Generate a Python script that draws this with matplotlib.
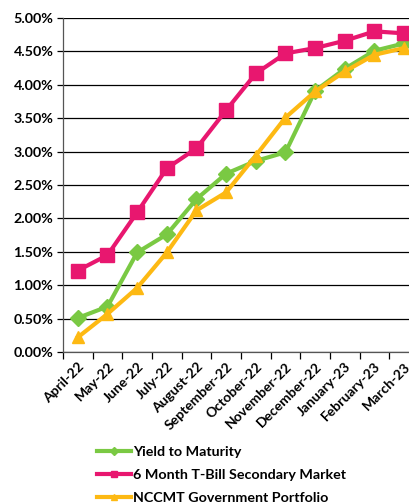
import matplotlib
matplotlib.use("Agg")
import matplotlib.pyplot as plt
from matplotlib.ticker import FuncFormatter, MultipleLocator

months = ["April-22", "May-22", "June-22", "July-22", "August-22", "September-22",
          "October-22", "November-22", "December-22", "January-23", "February-23", "March-23"]
ytm = [0.51, 0.68, 1.49, 1.76, 2.29, 2.67, 2.86, 2.99, 3.91, 4.24, 4.51, 4.62]
tbill = [1.22, 1.45, 2.09, 2.75, 3.05, 3.62, 4.17, 4.47, 4.55, 4.66, 4.80, 4.77]
nccmt = [0.22, 0.57, 0.96, 1.49, 2.12, 2.39, 2.94, 3.51, 3.90, 4.20, 4.45, 4.55]

plt.rcParams['font.family'] = ['Lato', 'DejaVu Sans']
plt.rcParams['font.weight'] = 'bold'

fig = plt.figure(figsize=(4.10, 5.04), dpi=100)
ax = fig.add_axes([63 / 410, 1 - 352 / 504, 356 / 410, 334 / 504])

x = list(range(len(months)))
ax.plot(x, ytm, color="#7AC943", lw=3, marker="D", ms=8, label="Yield to Maturity")
ax.plot(x, tbill, color="#E8176F", lw=3, marker="s", ms=10, label="6 Month T-Bill Secondary Market")
ax.plot(x, nccmt, color="#FDB913", lw=3, marker="^", ms=9, label="NCCMT Government Portfolio")

ax.set_xlim(-0.5, len(months) - 0.5)
ax.set_ylim(0, 5)
ax.yaxis.set_major_locator(MultipleLocator(0.5))
ax.yaxis.set_major_formatter(FuncFormatter(lambda v, p: f"{v:.2f}%"))
ax.grid(axis="y", color="black", lw=0.9)
ax.set_axisbelow(True)

ax.set_xticks([i - 0.5 for i in range(len(months) + 1)])
ax.set_xticklabels([])
ax.set_xticks(x, minor=True)
ax.set_xticklabels(months, minor=True, rotation=45, ha="right", rotation_mode="anchor", fontsize=10)
ax.tick_params(axis="x", which="minor", length=0, pad=6)
ax.tick_params(axis="x", which="major", length=5, width=0.9, direction="out")
ax.tick_params(axis="y", length=4, width=0.9, labelsize=10.3, pad=3)

for s in ["top", "right"]:
    ax.spines[s].set_visible(False)
for s in ["left", "bottom"]:
    ax.spines[s].set_color("#555555")
    ax.spines[s].set_linewidth(0.9)

leg = fig.legend(loc="upper left", bbox_to_anchor=(97 / 410, 1 - 446 / 504), frameon=False,
                 fontsize=10.3, handlelength=2.35, handletextpad=0.2, labelspacing=0.78,
                 borderpad=0, borderaxespad=0, markerscale=0.5)

fig.savefig("out.png", dpi=100)
